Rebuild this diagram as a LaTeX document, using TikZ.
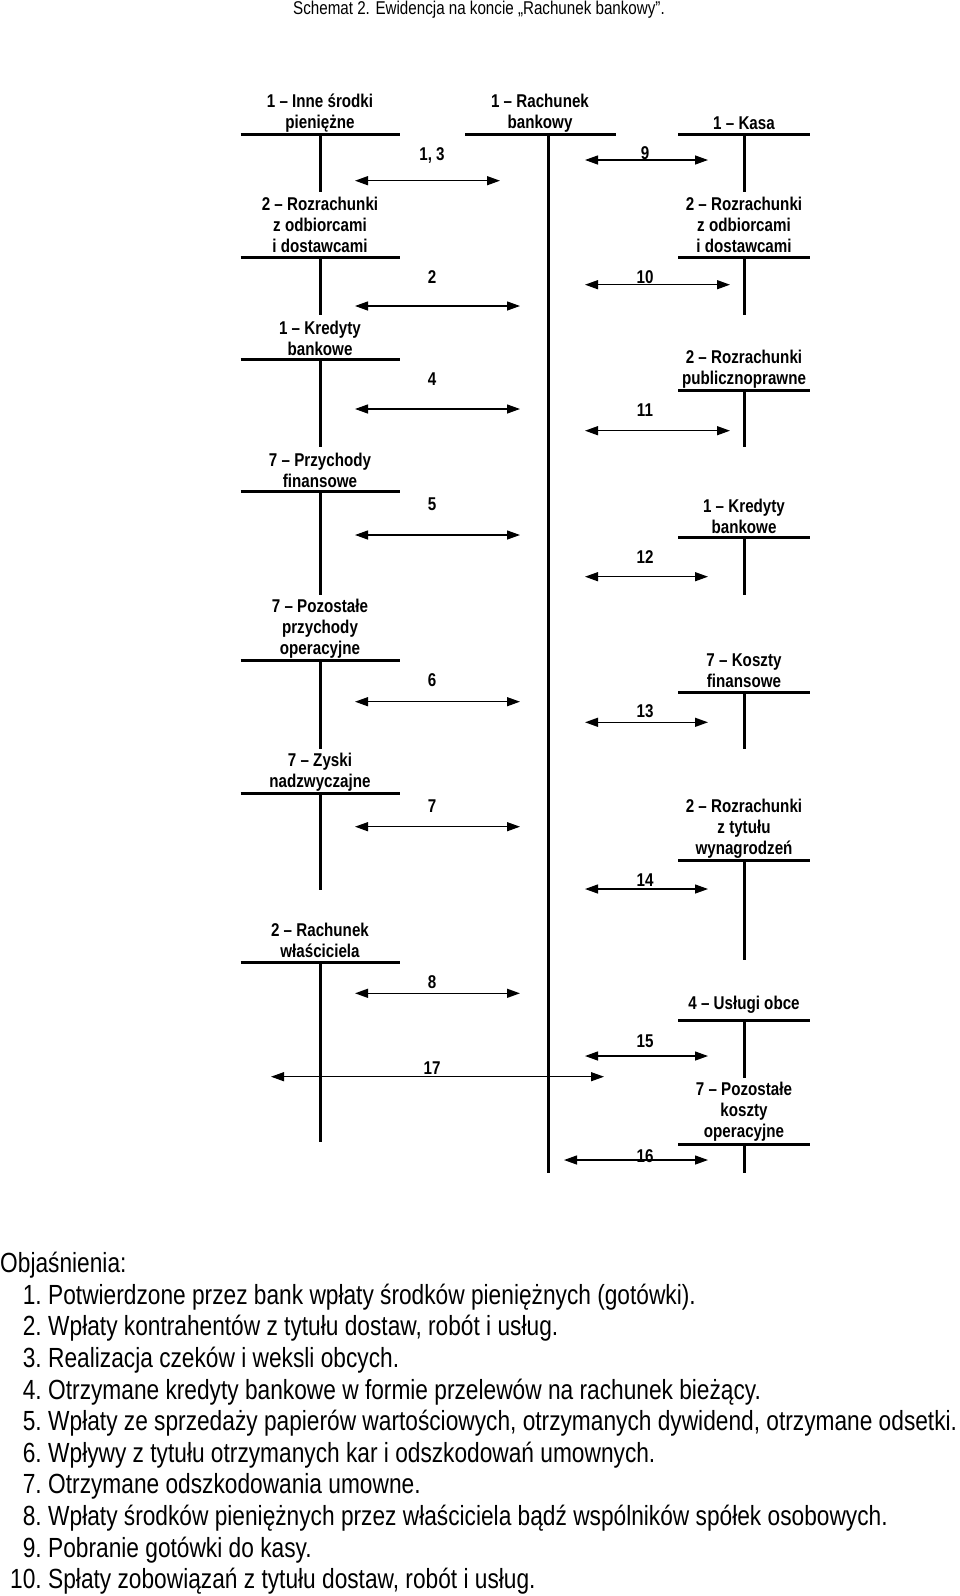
\documentclass[tikz,border=0pt]{standalone}
\usepackage{fontspec}
\setmainfont{Liberation Sans}[FakeStretch=0.82]
\usetikzlibrary{arrows.meta}

\tikzstyle{acct} = [font=\bfseries\fontsize{18.5}{21}\selectfont, align=center, inner sep=0pt]
\tikzstyle{tline} = [line width=3pt]
\tikzstyle{flow} = [line width=1.3pt, {Triangle[length=13pt,width=9pt]}-{Triangle[length=13pt,width=9pt]}]
\tikzstyle{flowlbl} = [font=\bfseries\fontsize{18.5}{21}\selectfont, inner sep=0pt, anchor=base]
\tikzstyle{legend} = [font=\fontsize{27.7}{31.6}\selectfont, inner sep=0pt]

\begin{document}
\begin{tikzpicture}[x=1pt, y=-1pt]
\useasboundingbox (0,0) rectangle (960,1596);
\node[font=\fontsize{18.5}{21}\selectfont, inner sep=0pt] (title) at (479,10) {Schemat 2. Ewidencja na koncie „Rachunek bankowy”.};

% konto glowne
\node[acct] (bank) at (540,113) {1 – Rachunek\\bankowy};
\draw[tline] (465,134.3) -- (616,134.3);
\draw[tline] (548,134.3) -- (548,1173.3);

% konta po lewej
\foreach \n/\ty/\by/\sy/\txt in {
  inne/113/134.3/191.7/{1 – Inne środki\\pieniężne},
  rozrL/225/257.7/315/{2 – Rozrachunki\\z odbiorcami\\i dostawcami},
  kredL/338/359.3/446.7/{1 – Kredyty\\bankowe},
  przfin/470.7/491.7/595/{7 – Przychody\\finansowe},
  przop/628.6/660.7/749.3/{7 – Pozostałe\\przychody\\operacyjne},
  zyski/772.2/793.3/890/{7 – Zyski\\nadzwyczajne},
  wlasc/940.7/962.3/1141.7/{2 – Rachunek\\właściciela}}{
  \node[acct] (\n) at (320,\ty) {\txt};
  \draw[tline] (240.5,\by) -- (399.5,\by);
  \draw[tline] (320,\by) -- (320,\sy);
}

% konta po prawej
\foreach \n/\ty/\by/\sy/\txt in {
  kasa/123.7/134.3/191.7/{1 – Kasa},
  rozrP/225/257.7/315/{2 – Rozrachunki\\z odbiorcami\\i dostawcami},
  publ/368.8/390.7/446.7/{2 – Rozrachunki\\publicznoprawne},
  kredP/516.5/537.7/595/{1 – Kredyty\\bankowe},
  kfin/670.5/692.3/749.3/{7 – Koszty\\finansowe},
  wynagr/828.8/860.7/960/{2 – Rozrachunki\\z tytułu\\wynagrodzeń},
  uslugi/1004.3/1020/1078.3/{4 – Usługi obce},
  kop/1112.1/1144.3/1173.3/{7 – Pozostałe\\koszty\\operacyjne}}{
  \node[acct] (\n) at (744,\ty) {\txt};
  \draw[tline] (678,\by) -- (810,\by);
  \draw[tline] (744,\by) -- (744,\sy);
}

% operacje
\foreach \n/\lab/\lx/\ly/\ay/\xa/\xb in {
  a/{1, 3}/432/154/180.7/355/500,
  b/2/432/277.3/306/355/520,
  c/4/432/379/409/355/520,
  d/5/432/504/535/355/520,
  e/6/432/680/701.7/355/520,
  f/7/432/806/826.7/355/520,
  g/8/432/981.7/993.3/355/520,
  h/17/432/1068.3/1076.7/271/604,
  i/9/645/153.3/160/585/708,
  j/10/645/276.7/284.7/585/730,
  k/11/645/410/430.7/585/730,
  l/12/645/556.7/576.7/585/708,
  m/13/645/710.7/722.3/585/708,
  n/14/645/880/889/585/708,
  o/15/645/1040.7/1056/585/708,
  p/16/645/1156/1160/564/708}{
  \coordinate (s\n) at (\xa,\ay);
  \coordinate (t\n) at (\xb,\ay);
  \draw[flow] (s\n) -- (t\n);
  \node[flowlbl] (lab\n) at (\lx,{\ly+6.6}) {\lab};
}

% objasnienia
\node[legend, anchor=base west] (objasn) at (0,1272.7) {Objaśnienia:};
\foreach \i/\txt in {
  1/{Potwierdzone przez bank wpłaty środków pieniężnych (gotówki).},
  2/{Wpłaty kontrahentów z tytułu dostaw, robót i usług.},
  3/{Realizacja czeków i weksli obcych.},
  4/{Otrzymane kredyty bankowe w formie przelewów na rachunek bieżący.},
  5/{Wpłaty ze sprzedaży papierów wartościowych, otrzymanych dywidend, otrzymane odsetki.},
  6/{Wpływy z tytułu otrzymanych kar i odszkodowań umownych.},
  7/{Otrzymane odszkodowania umowne.},
  8/{Wpłaty środków pieniężnych przez właściciela bądź wspólników spółek osobowych.},
  9/{Pobranie gotówki do kasy.},
  10/{Spłaty zobowiązań z tytułu dostaw, robót i usług.}}{
  \node[legend, anchor=base east] (num\i) at (42,{1272.7+31.6*\i}) {\i.};
  \node[legend, anchor=base west] (item\i) at (48,{1272.7+31.6*\i}) {\txt};
}
\end{tikzpicture}
\end{document}
